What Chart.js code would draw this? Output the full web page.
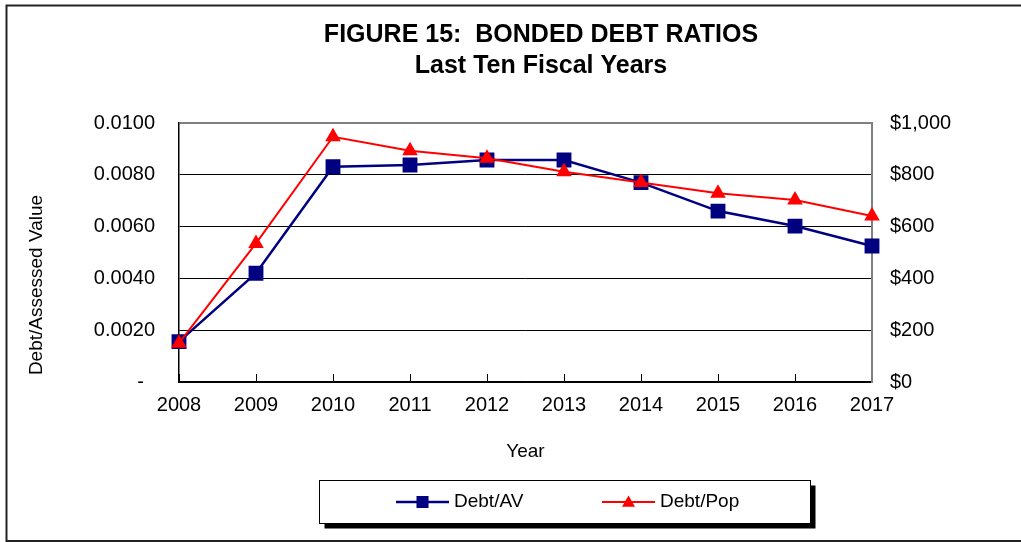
<!DOCTYPE html>
<html>
<head>
<meta charset="utf-8">
<title>Bonded Debt Ratios</title>
<script src="https://cdn.jsdelivr.net/npm/chart.js@4/dist/chart.umd.min.js"></script>
<style>
  html, body { margin: 0; padding: 0; background: #fff; }
  #wrap { width: 1021px; height: 542px; }
</style>
</head>
<body>
<div id="wrap"><canvas id="debtChart" width="1021" height="542"></canvas></div>
<script>
// Fiscal years and the two ratio series
const years = ['2008', '2009', '2010', '2011', '2012', '2013', '2014', '2015', '2016', '2017'];
const debtToAV = [0.00156, 0.00420, 0.00831, 0.00838, 0.00857, 0.00857, 0.00770, 0.00660, 0.00602, 0.00525];
const debtPerCapita = [150, 535, 947, 893, 864, 812, 770, 729, 703, 641];

const titleLines = ['FIGURE 15:  BONDED DEBT RATIOS', 'Last Ten Fiscal Years'];
const seriesNames = ['Debt/AV', 'Debt/Pop'];

const FONT = "'Liberation Sans', Arial, Helvetica, sans-serif";
Chart.defaults.font.family = FONT;
Chart.defaults.color = '#000';

// white page + thin frame around the figure
const framePlugin = {
    id: 'frame',
    beforeDraw(chart) {
        const ctx = chart.ctx;
        ctx.save();
        ctx.fillStyle = '#fff';
        ctx.fillRect(0, 0, chart.width, chart.height);
        ctx.restore();
    },
    afterDraw(chart) {
        const ctx = chart.ctx;
        ctx.save();
        ctx.strokeStyle = '#222';
        ctx.lineWidth = 2;
        ctx.beginPath();
        ctx.moveTo(6.5, chart.height);
        ctx.lineTo(6.5, 5.5);
        ctx.lineTo(chart.width, 5.5);
        ctx.moveTo(6.5, 541);
        ctx.lineTo(chart.width, 541);
        ctx.stroke();
        ctx.restore();
    }
};

// rotated left axis caption, sits a bit below the plot centre
const yCaptionPlugin = {
    id: 'yCaption',
    afterDraw(chart) {
        const ctx = chart.ctx;
        ctx.save();
        ctx.translate(37, 285);
        ctx.rotate(-Math.PI / 2);
        ctx.font = '19px ' + FONT;
        ctx.fillStyle = '#000';
        ctx.textAlign = 'center';
        ctx.textBaseline = 'middle';
        ctx.fillText('Debt/Assessed Value', 0, 0);
        ctx.restore();
    }
};

function drawMarker(ctx, style, x, y, r) {
    ctx.beginPath();
    if (style === 'rect') {
        const s = r * Math.SQRT1_2;
        ctx.rect(x - s, y - s, 2 * s, 2 * s);
    } else {
        ctx.moveTo(x, y - r);
        ctx.lineTo(x + r * 0.866, y + r * 0.5);
        ctx.lineTo(x - r * 0.866, y + r * 0.5);
        ctx.closePath();
    }
    ctx.fill();
}

// boxed legend with drop shadow under the plot
const boxLegendPlugin = {
    id: 'boxLegend',
    afterDraw(chart) {
        const ctx = chart.ctx;
        const box = { x: 319.5, y: 480.5, w: 491, h: 43 };
        ctx.save();
        ctx.fillStyle = '#000';
        ctx.fillRect(box.x + 5, box.y + 5, box.w, box.h);
        ctx.fillStyle = '#fff';
        ctx.fillRect(box.x, box.y, box.w, box.h);
        ctx.strokeStyle = '#000';
        ctx.lineWidth = 1;
        ctx.strokeRect(box.x, box.y, box.w, box.h);

        const cy = 502;
        const itemX = [396, 602];
        const markR = [8.5, 7.5];
        chart.data.datasets.forEach((ds, i) => {
            const x0 = itemX[i];
            ctx.strokeStyle = ds.borderColor;
            ctx.lineWidth = ds.borderWidth;
            ctx.beginPath();
            ctx.moveTo(x0, cy);
            ctx.lineTo(x0 + 53, cy);
            ctx.stroke();
            ctx.fillStyle = ds.backgroundColor;
            drawMarker(ctx, ds.pointStyle, x0 + 26.5, ds.pointStyle === 'triangle' ? cy + 1 : cy, markR[i]);
            ctx.fillStyle = '#000';
            ctx.font = '19px ' + FONT;
            ctx.textAlign = 'left';
            ctx.textBaseline = 'middle';
            ctx.fillText(ds.label, x0 + 58, cy);
        });
        ctx.restore();
    }
};

const ctx = document.getElementById('debtChart').getContext('2d');
const debtChart = new Chart(ctx, {
    type: 'line',
    data: {
        labels: years,
        datasets: [
            {
                label: seriesNames[0],
                data: debtToAV,
                yAxisID: 'y',
                borderColor: '#000080',
                backgroundColor: '#000080',
                borderWidth: 2.5,
                pointStyle: 'rect',
                pointRadius: 10.5,
                pointBorderWidth: 0,
                tension: 0,
                order: 1
            },
            {
                label: seriesNames[1],
                data: debtPerCapita,
                yAxisID: 'y1',
                borderColor: '#ff0000',
                backgroundColor: '#ff0000',
                borderWidth: 2,
                pointStyle: 'triangle',
                pointRadius: 9,
                pointBorderWidth: 0,
                tension: 0,
                order: 0
            }
        ]
    },
    options: {
        responsive: false,
        animation: false,
        devicePixelRatio: 1,
        layout: {
            padding: { left: 61, right: 0, top: 0, bottom: 0 }
        },
        plugins: {
            legend: { display: false },
            tooltip: { enabled: false },
            title: {
                display: true,
                text: titleLines,
                color: '#000',
                font: { size: 25, weight: 'bold', lineHeight: 1.24 },
                padding: { top: 20, bottom: 41 }
            }
        },
        scales: {
            x: {
                type: 'category',
                offset: false,
                grid: {
                    display: true,
                    drawOnChartArea: false,
                    drawTicks: true,
                    tickLength: -8,
                    color: '#000',
                    lineWidth: 1
                },
                border: { color: '#000', width: 1.5 },
                ticks: {
                    font: { size: 20 },
                    color: '#000',
                    padding: 19,
                    maxRotation: 0,
                    autoSkip: false
                },
                title: {
                    display: true,
                    text: 'Year',
                    font: { size: 19 },
                    color: '#000',
                    padding: { top: 0, bottom: 79 }
                },
                afterFit(scale) { scale.height = 160; }
            },
            y: {
                position: 'left',
                min: 0,
                max: 0.01,
                grid: {
                    drawTicks: false,
                    color: c => (c.tick && c.tick.value >= 0.01 ? '#808080' : '#000'),
                    lineWidth: c => (c.tick && c.tick.value >= 0.01 ? 2 : 1)
                },
                border: { color: '#000', width: 1.5 },
                ticks: {
                    stepSize: 0.002,
                    font: { size: 20 },
                    color: '#000',
                    padding: 24,
                    callback: v => (v === 0 ? '-  ' : Number(v).toFixed(4))
                },
                afterFit(scale) { scale.width = 118; }
            },
            y1: {
                position: 'right',
                min: 0,
                max: 1000,
                grid: { drawOnChartArea: false, drawTicks: false },
                border: { color: '#808080', width: 2 },
                ticks: {
                    stepSize: 200,
                    font: { size: 20 },
                    color: '#000',
                    padding: 18,
                    callback: v => '$' + Number(v).toLocaleString('en-US')
                },
                afterFit(scale) { scale.width = 149; }
            }
        }
    },
    plugins: [framePlugin, yCaptionPlugin, boxLegendPlugin]
});
</script>
</body>
</html>
